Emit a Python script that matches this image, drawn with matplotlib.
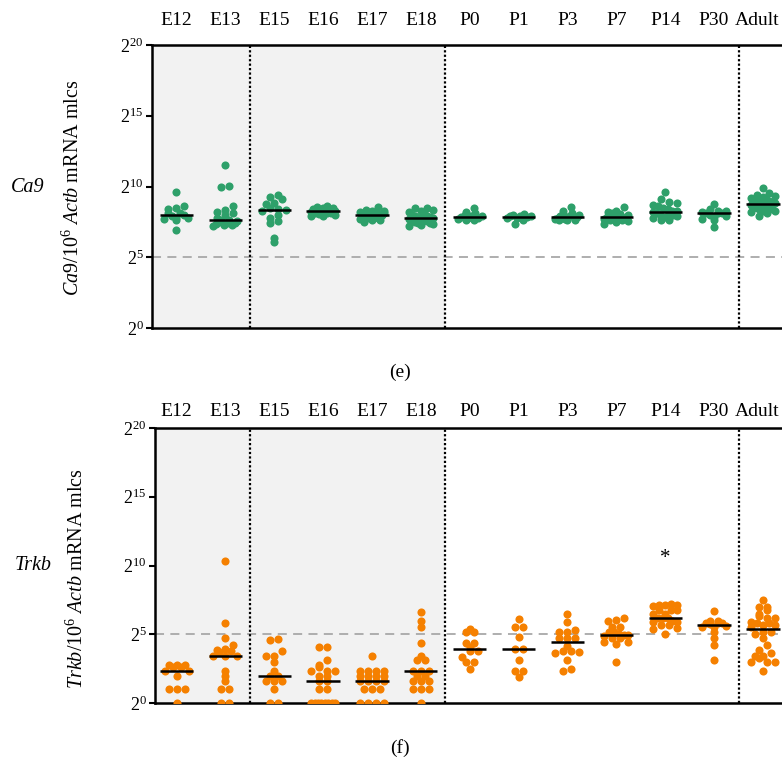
import numpy as np
from math import gcd
import matplotlib
matplotlib.use("Agg")
import matplotlib.pyplot as plt

plt.rcParams["font.family"] = ["Liberation Serif", "DejaVu Serif"]
plt.rcParams["mathtext.fontset"] = "custom"
plt.rcParams["mathtext.rm"] = "Liberation Serif"
plt.rcParams["mathtext.it"] = "Liberation Serif:italic"

stages = ["E12", "E13", "E15", "E16", "E17", "E18", "P0", "P1", "P3",
          "P7", "P14", "P30", "Adult"]

# log2 of mRNA molecules per 10^6 Actb
ca9_e12 = [9.6, 8.6, 8.5, 8.4, 8.15, 8.1, 7.97, 7.95, 7.8, 7.8, 7.7, 7.65, 6.9]
ca9_e13 = [11.55, 10.05, 9.95, 8.6, 8.35, 8.2, 8.15, 8.0, 7.8, 7.6, 7.6,
           7.55, 7.5, 7.45, 7.4, 7.35, 7.3, 7.25, 7.2]
ca9_e15 = [9.4, 9.25, 9.1, 8.85, 8.75, 8.5, 8.4, 8.36, 8.3, 8.0, 7.8, 7.55,
           7.45, 6.35, 6.1]
ca9_e16 = [8.65, 8.55, 8.5, 8.45, 8.4, 8.35, 8.35, 8.3, 8.3, 8.25, 8.25, 8.2,
           8.2, 8.15, 8.15, 8.1, 8.05, 8.0, 7.95, 7.9]
ca9_e17 = [8.55, 8.35, 8.3, 8.25, 8.2, 8.15, 8.1, 8.1, 8.05, 8.05, 8.0, 8.0,
           7.95, 7.95, 7.9, 7.85, 7.8, 7.75, 7.7, 7.65, 7.6, 7.5]
ca9_e18 = [8.5, 8.45, 8.35, 8.3, 8.2, 8.1, 8.0, 7.95, 7.9, 7.85, 7.8, 7.75,
           7.75, 7.7, 7.65, 7.6, 7.55, 7.5, 7.45, 7.4, 7.35, 7.3, 7.2]
ca9_p0 = [8.5, 8.2, 8.1, 8.0, 7.95, 7.9, 7.85, 7.8, 7.75, 7.7, 7.65, 7.6]
ca9_p1 = [8.05, 8.0, 7.95, 7.9, 7.9, 7.85, 7.8, 7.75, 7.6, 7.35]
ca9_p3 = [8.55, 8.25, 8.15, 8.05, 8.0, 7.95, 7.9, 7.85, 7.85, 7.8, 7.75, 7.7,
          7.7, 7.65, 7.6, 7.6]
ca9_p7 = [8.55, 8.3, 8.2, 8.1, 8.05, 8.0, 7.95, 7.9, 7.85, 7.85, 7.8, 7.75,
          7.7, 7.65, 7.6, 7.55, 7.5, 7.35]
ca9_p14 = [9.6, 9.1, 8.9, 8.85, 8.7, 8.6, 8.5, 8.4, 8.3, 8.25, 8.2, 8.15, 8.1,
           8.0, 7.95, 7.9, 7.85, 7.8, 7.6, 7.6]
ca9_p30 = [8.75, 8.4, 8.3, 8.25, 8.2, 8.15, 8.1, 8.1, 8.0, 7.9, 7.85, 7.7,
           7.65, 7.15]
ca9_adult = [9.9, 9.55, 9.4, 9.3, 9.25, 9.2, 9.1, 9.05, 9.0, 8.95, 8.9, 8.85,
             8.8, 8.75, 8.7, 8.6, 8.55, 8.5, 8.45, 8.4, 8.35, 8.3, 8.25, 8.2,
             8.1, 7.9]

trkb_e12 = [2.8, 2.8, 2.8, 2.6, 2.6, 2.3, 2.3, 2.0, 1.0, 1.0, 1.0, 0.0]
trkb_e13 = [10.3, 5.8, 4.7, 4.2, 3.9, 3.85, 3.8, 3.7, 3.4, 3.4, 3.4, 2.3, 2.0,
            1.6, 1.0, 1.0, 0.0, 0.0]
trkb_e15 = [4.65, 4.55, 3.8, 3.4, 3.4, 2.95, 2.3, 2.0, 2.0, 1.6, 1.6, 1.6,
            1.0, 0.0, 0.0]
trkb_e16 = [4.1, 4.1, 3.1, 2.8, 2.6, 2.3, 2.3, 2.3, 2.0, 2.0, 1.6, 1.6, 1.0,
            1.0, 0.0, 0.0, 0.0, 0.0, 0.0, 0.0, 0.0, 0.0]
trkb_e17 = [3.4, 2.3, 2.3, 2.3, 2.3, 2.0, 2.0, 2.0, 2.0, 1.6, 1.6, 1.6, 1.6,
            1.0, 1.0, 1.0, 0.0, 0.0, 0.0, 0.0]
trkb_e18 = [6.6, 5.95, 5.5, 4.35, 3.4, 3.1, 3.1, 2.3, 2.3, 2.3, 2.0, 2.0, 1.6,
            1.6, 1.6, 1.0, 1.0, 1.0, 0.0]
trkb_p0 = [5.35, 5.2, 5.2, 4.4, 4.4, 4.05, 3.8, 3.8, 3.35, 2.95, 2.95, 2.5]
trkb_p1 = [6.1, 5.55, 5.55, 4.8, 3.95, 3.95, 3.1, 2.3, 2.3, 1.9]
trkb_p3 = [6.5, 5.9, 5.3, 5.15, 5.15, 4.75, 4.75, 4.75, 4.15, 3.75, 3.7,
           3.65, 3.1, 2.5, 2.3, 3.8]
trkb_p7 = [6.2, 6.05, 5.95, 5.55, 5.55, 5.2, 5.2, 5.0, 4.95, 4.95, 4.9, 4.75,
           4.75, 4.45, 4.45, 4.3, 2.95]
trkb_p14 = [7.2, 7.15, 7.1, 7.1, 7.05, 6.8, 6.8, 6.75, 6.5, 6.45, 6.2, 6.2,
            6.15, 5.95, 5.9, 5.9, 5.7, 5.65, 5.45, 5.4, 5.05]
trkb_p30 = [6.7, 6.0, 6.0, 5.85, 5.85, 5.85, 5.75, 5.6, 5.55, 5.55, 5.2, 4.7,
            4.2, 3.1]
trkb_adult = [7.5, 7.0, 7.0, 6.8, 6.45, 6.3, 6.15, 6.15, 5.9, 5.8, 5.8, 5.65,
              5.65, 5.5, 5.2, 5.2, 5.05, 4.7, 4.2, 3.85, 3.65, 3.4, 3.4, 3.25,
              2.95, 2.95, 2.95, 2.3]

ca9_groups = [ca9_e12, ca9_e13, ca9_e15, ca9_e16, ca9_e17, ca9_e18, ca9_p0,
              ca9_p1, ca9_p3, ca9_p7, ca9_p14, ca9_p30, ca9_adult]
trkb_groups = [trkb_e12, trkb_e13, trkb_e15, trkb_e16, trkb_e17, trkb_e18,
               trkb_p0, trkb_p1, trkb_p3, trkb_p7, trkb_p14, trkb_p30,
               trkb_adult]

yticks = [0, 5, 10, 15, 20]
GREEN = "#2ea06a"
ORANGE = "#f58000"
W, H = 782, 758


def row_offsets(vals, px_y, px_x, row_px=7.0, step_px=8.0, max_px=24.0):
    # prism-like scatter: points in the same row are spread sideways,
    # interleaved so a row does not turn into a slanted line
    vals = np.asarray(vals, dtype=float)
    bins = np.floor(vals * px_y / row_px + 0.5)
    off = np.zeros(len(vals))
    for b in np.unique(bins):
        idx = np.where(bins == b)[0]
        idx = idx[np.argsort(vals[idx], kind="stable")]
        n = len(idx)
        if n == 1:
            continue
        step = min(step_px, max_px / (n - 1))
        s = max(1, round(n * 0.38))
        while gcd(s, n) != 1:
            s += 1
        slots = [(k * s) % n for k in range(n)]
        for j, slot in zip(idx, slots):
            off[j] = (slot - (n - 1) / 2) * step
    return off / px_x


def panel(ax, groups, color, label_gap, x0):
    ax.set_xlim(x0, 12.39)
    ax.set_ylim(0, 20)
    ax.axvspan(x0 - 0.1, 5.5, color="#f2f2f2", zorder=0, lw=0)
    ax.axhline(5, color="#a8a8a8", lw=1.3, ls=(0, (5, 3.5)), zorder=1)
    for xd in [1.5, 5.5, 11.5]:
        ax.axvline(xd, color="black", lw=1.6, ls=(0, (1, 1)), zorder=2)

    bb = ax.get_position()
    px_x = bb.width * W / (12.39 - x0)
    px_y = bb.height * H / 20.0
    for i, vals in enumerate(groups):
        dx = row_offsets(vals, px_y, px_x)
        ax.scatter(i + dx, vals, s=34, color=color, lw=0, zorder=3)
        ax.hlines(np.median(vals), i - 0.34, i + 0.34, color="black",
                  lw=1.8, zorder=4)

    ax.set_xticks([])
    for i, st in enumerate(stages):
        shift = -6 if st == "Adult" else 0
        ax.annotate(st, xy=(i, 1), xycoords=("data", "axes fraction"),
                    xytext=(shift, label_gap), textcoords="offset pixels",
                    ha="center", va="baseline", fontsize=14)

    ax.set_yticks(yticks)
    ax.set_yticklabels([rf"$2^{{{t}}}$" for t in yticks], fontsize=13)
    ax.tick_params(axis="y", length=4, width=1.5, pad=2)
    for s in ["left", "top", "bottom"]:
        ax.spines[s].set_linewidth(1.8)
    ax.spines["right"].set_visible(False)


fig = plt.figure(figsize=(W / 100, H / 100), dpi=100)

ax1 = fig.add_axes([152 / W, 1 - 328 / H, (W - 152) / W, 283 / H])
panel(ax1, ca9_groups, GREEN, 20, -0.5)

ax2 = fig.add_axes([155 / W, 1 - 703 / H, (W - 155) / W, 275 / H])
panel(ax2, trkb_groups, ORANGE, 12, -0.44)
ax2.text(10, 10.5, "*", ha="center", va="center", fontsize=15)

fig.text(73 / W, 1 - 188 / H, r"$\mathit{Ca9}$/10$^6$ $\mathit{Actb}$ mRNA mlcs",
         rotation=90, ha="center", va="center", fontsize=14.5)
fig.text(77 / W, 1 - 579 / H, r"$\mathit{Trkb}$/10$^6$ $\mathit{Actb}$ mRNA mlcs",
         rotation=90, ha="center", va="center", fontsize=14.5)
fig.text(28 / W, 1 - 187 / H, "Ca9", style="italic", ha="center",
         va="center", fontsize=14.5)
fig.text(33 / W, 1 - 565 / H, "Trkb", style="italic", ha="center",
         va="center", fontsize=14.5)
fig.text(400 / W, 1 - 372 / H, "(e)", ha="center", va="center", fontsize=14)
fig.text(400 / W, 1 - 748 / H, "(f)", ha="center", va="center", fontsize=14)

fig.savefig("out.png", dpi=100)
